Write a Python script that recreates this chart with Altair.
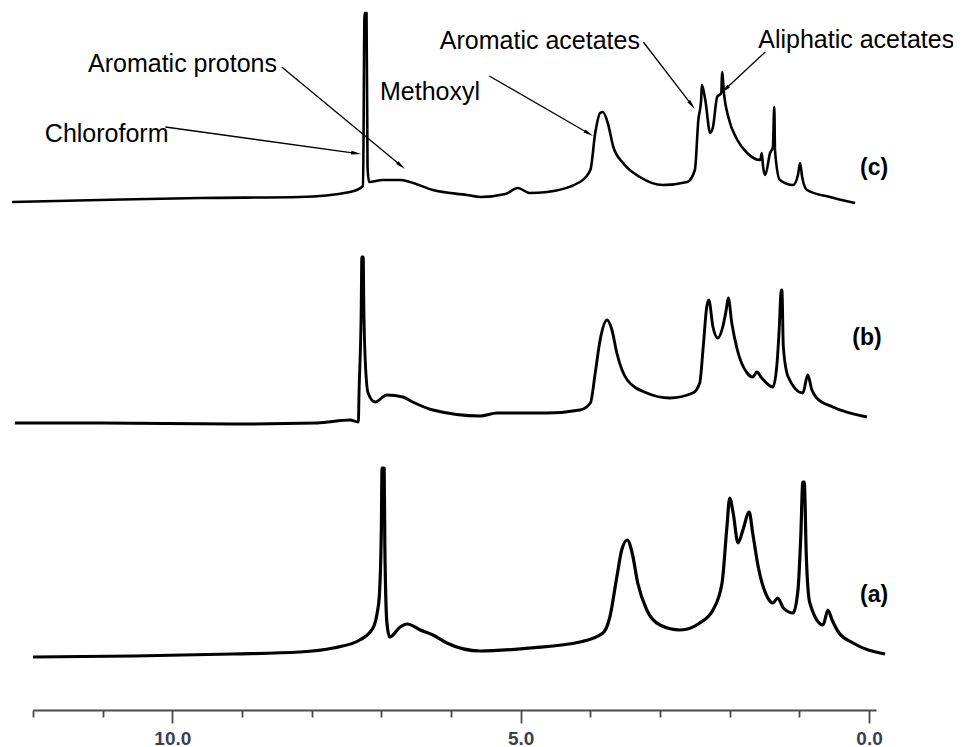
import altair as alt
import pandas as pd
import numpy as np

# ---- spectrum (c) ----
ppm_c = [12.30, 11.04, 9.60, 8.17, 7.45, 7.263, 7.241, 7.213, 7.198, 7.177, 6.98, 6.73, 6.59, 6.26, 5.77,
         5.58, 5.22, 5.04, 4.87, 4.62, 4.15, 4.00, 3.93, 3.86, 3.82, 3.75, 3.67, 3.53, 3.29, 2.96,
         2.61, 2.50, 2.45, 2.41, 2.40, 2.35, 2.28, 2.24, 2.18, 2.12, 2.11, 2.08, 2.02, 1.89, 1.75,
         1.56, 1.54, 1.52, 1.49, 1.42, 1.38, 1.36, 1.35, 1.28, 1.09, 1.02, 0.99, 0.96, 0.89, 0.56, 0.20]
int_c = [3, 5, 7, 8, 13, 19, 192, 192, 38, 23, 25, 25, 23, 15, 10,
         8, 11, 17, 12, 13, 23, 35, 72, 92, 93, 82, 58, 42, 28, 20,
         23, 35, 85, 105, 120, 105, 72, 78, 108, 112, 133, 110, 88, 65, 52,
         45, 52, 38, 30, 52, 58, 98, 55, 25, 20, 30, 42, 28, 15, 8, 2]

# ---- spectrum (b) ----
ppm_b = [12.26, 11.04, 9.13, 7.92, 7.45, 7.33, 7.32, 7.29, 7.28, 7.26, 7.25, 7.22, 7.19, 7.09, 6.92,
         6.69, 6.55, 6.26, 5.58, 5.34, 4.62, 4.15, 4.00, 3.93, 3.86, 3.76, 3.69, 3.62, 3.47, 3.19,
         2.86, 2.53, 2.43, 2.38, 2.33, 2.30, 2.24, 2.17, 2.10, 2.05, 2.02, 1.97, 1.89, 1.75, 1.67,
         1.61, 1.54, 1.38, 1.32, 1.29, 1.26, 1.25, 1.23, 1.16, 0.95, 0.88, 0.82, 0.75, 0.52, 0.03]
int_b = [2, 2, 1, 2, 5, 3, 33, 112, 168, 168, 112, 50, 32, 23, 30,
         28, 23, 15, 9, 12, 12, 15, 22, 52, 85, 105, 95, 72, 45, 32,
         27, 32, 42, 78, 118, 125, 98, 87, 98, 115, 127, 102, 75, 52, 48,
         53, 47, 38, 62, 95, 135, 135, 78, 48, 32, 50, 35, 27, 18, 8]

# ---- spectrum (a) ----
ppm_a = [12.00, 10.56, 9.13, 8.17, 7.69, 7.31, 7.12, 7.06, 7.03, 7.00, 6.99, 6.96, 6.95, 6.92, 6.88,
         6.73, 6.63, 6.44, 6.26, 6.06, 5.58, 4.87, 4.15, 3.82, 3.72, 3.62, 3.55, 3.47, 3.40, 3.32,
         3.19, 3.00, 2.71, 2.43, 2.24, 2.11, 2.04, 2.00, 1.95, 1.88, 1.81, 1.72, 1.67, 1.59, 1.46,
         1.38, 1.31, 1.23, 1.09, 1.02, 0.98, 0.95, 0.93, 0.90, 0.85, 0.66, 0.59, 0.53, 0.44, 0.23, -0.23]
int_a = [3, 4, 6, 8, 12, 20, 32, 47, 63, 130, 192, 192, 115, 37, 23,
         33, 36, 30, 25, 17, 9, 12, 18, 27, 43, 83, 110, 120, 107, 77,
         50, 35, 30, 37, 50, 77, 133, 162, 147, 117, 130, 148, 127, 93, 63,
         57, 62, 52, 47, 70, 123, 178, 178, 103, 57, 35, 50, 40, 28, 17, 6]

# vertical stacking offsets of the three spectra (layout)
OFFSETS = {"a": 50, "b": 285, "c": 505}

# annotations
ann_text = ["Aromatic protons", "Chloroform", "Methoxyl", "Aromatic acetates", "Aliphatic acetates"]
ann_ppm = [11.21, 11.83, 7.02, 6.16, 1.59]
ann_y = [638, 568, 610, 661, 662]

# arrows: Chloroform, Aromatic protons, Methoxyl, Aromatic acetates, Aliphatic acetates
arr_from_ppm = [10.10, 8.43, 5.45, 3.24, 1.49]
arr_from_y = [583, 643, 634, 668, 658]
arr_to_ppm = [7.29, 6.66, 3.96, 2.50, 2.12]
arr_to_y = [556, 541, 574, 601, 617]

panel_text = ["(c)", "(b)", "(a)"]
panel_ppm = [0.13, 0.24, 0.13]
panel_y = [535, 365, 108]

tick_values = list(range(12, -1, -1))

# ---------------------------------------------------------------
W, H = 843, 700
X_DOMAIN = [12.0, -0.1]
PX = W / (X_DOMAIN[0] - X_DOMAIN[1])

frames = []
for name, p, v in (("a", ppm_a, int_a), ("b", ppm_b, int_b), ("c", ppm_c, int_c)):
    d = pd.DataFrame({"ppm": p, "intensity": v})
    d["trace"] = name
    d["idx"] = np.arange(len(d))
    d["y"] = d["intensity"] + OFFSETS[name]
    frames.append(d)
spec = pd.concat(frames, ignore_index=True)

fp = np.array(arr_from_ppm); fy = np.array(arr_from_y, dtype=float)
tp = np.array(arr_to_ppm); ty = np.array(arr_to_y, dtype=float)
dxs = (fp - tp) * PX
dys = (fy - ty)
L = np.hypot(dxs, dys)
ux, uy = dxs / L, dys / L
HEAD = 5.0
arrows = pd.DataFrame({
    "x1": fp, "y1": fy,
    "x2": tp + HEAD * ux / PX, "y2": ty + HEAD * uy,
    "hx": tp + HEAD * ux / PX, "hy": ty + HEAD * uy,
    "angle": np.degrees(np.arctan2(ux, -uy)) % 360,
})

ann = pd.DataFrame({"text": ann_text, "ppm": ann_ppm, "y": ann_y})
panels = pd.DataFrame({"text": panel_text, "ppm": panel_ppm, "y": panel_y})

x_scale = alt.Scale(domain=X_DOMAIN, nice=False, zero=False)
y_scale = alt.Scale(domain=[0, H], nice=False, zero=False)

x_axis = alt.Axis(
    values=tick_values,
    labelExpr="datum.value % 5 === 0 ? format(datum.value, '.1f') : ''",
    title=None, grid=False,
    domainColor="#4a4a4a", domainWidth=1.8,
    tickColor="#4a4a4a", tickWidth=1.8,
    tickSize={"condition": {"test": "datum.value % 5 === 0", "value": 13}, "value": 7},
    labelFont="Liberation Sans", labelFontSize=19, labelFontWeight="bold", labelColor="#3a3f4f",
    labelPadding=6, labelOverlap=False, labelFlush=False,
)

X = lambda f: alt.X(f"{f}:Q", scale=x_scale, axis=x_axis)
Y = lambda f: alt.Y(f"{f}:Q", scale=y_scale, axis=None)

lines = alt.Chart(spec).mark_line(color="black", strokeJoin="round", interpolate="monotone").encode(
    x=X("ppm"), y=Y("y"), detail="trace:N", order="idx:Q",
    strokeWidth=alt.StrokeWidth("trace:N", scale=alt.Scale(domain=["a", "b", "c"], range=[3.2, 2.6, 3.2]), legend=None),
)

rules = alt.Chart(arrows).mark_rule(color="black", strokeWidth=1.3).encode(
    x=X("x1"), y=Y("y1"), x2="x2:Q", y2="y2:Q"
)

heads = alt.Chart(arrows).mark_point(
    shape="M0,-1L0.36,1L-0.36,1Z", filled=True, size=100, color="black", opacity=1, strokeWidth=0
).encode(x=X("hx"), y=Y("hy"), angle=alt.Angle("angle:Q", scale=None))

texts = alt.Chart(ann).mark_text(
    align="left", baseline="alphabetic", font="Liberation Sans", fontSize=25, color="black"
).encode(x=X("ppm"), y=Y("y"), text="text:N")

labels = alt.Chart(panels).mark_text(
    align="left", baseline="alphabetic", font="Liberation Sans", fontSize=23, fontWeight="bold", color="black"
).encode(x=X("ppm"), y=Y("y"), text="text:N")

chart = alt.layer(lines, rules, heads, texts, labels).properties(
    width=W, height=H,
    autosize=alt.AutoSizeParams(type="none"),
    padding={"left": 25, "top": 2, "right": 77, "bottom": 37},
    background="white",
).configure_view(strokeWidth=0)

chart.save("out.html", embed_options={"renderer": "svg", "actions": False})
